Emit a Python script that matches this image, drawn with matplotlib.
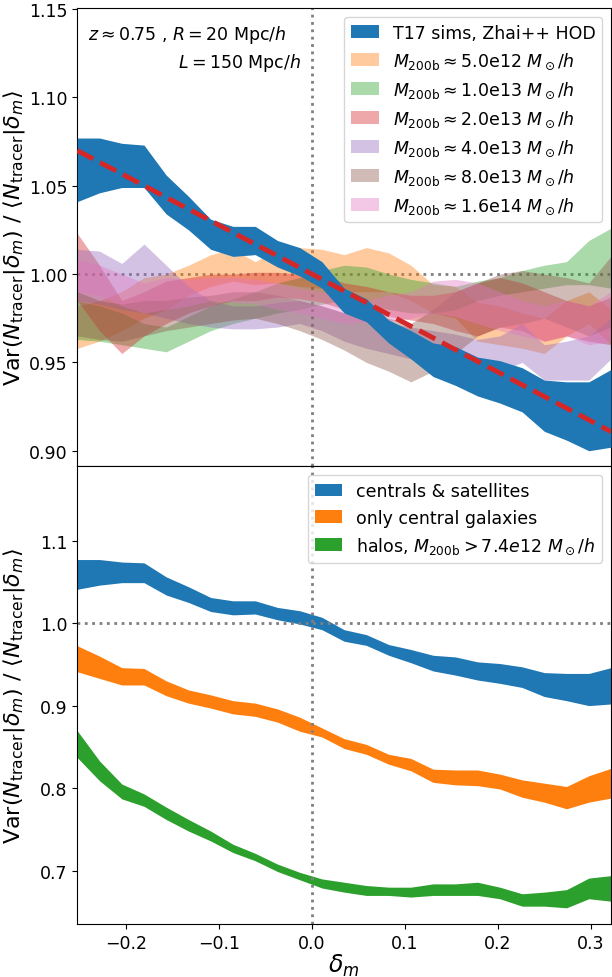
import matplotlib
matplotlib.use("Agg")
import matplotlib.pyplot as plt

# ---------------- data ----------------
delta_m = [-0.2525, -0.2286, -0.2046, -0.1807, -0.1568, -0.1328, -0.1089, -0.0850,
           -0.0610, -0.0371, -0.0132, 0.0108, 0.0347, 0.0586, 0.0826, 0.1065,
           0.1304, 0.1544, 0.1783, 0.2022, 0.2262, 0.2501, 0.2740, 0.2980, 0.3219]

# T17 sims / centrals & satellites
cs_lo = [1.041, 1.046, 1.049, 1.049, 1.034, 1.025, 1.014, 1.010, 1.011, 1.004, 0.999, 0.992,
         0.978, 0.973, 0.961, 0.952, 0.942, 0.937, 0.931, 0.927, 0.922, 0.911, 0.906, 0.900, 0.902]
cs_hi = [1.077, 1.077, 1.074, 1.073, 1.056, 1.044, 1.031, 1.027, 1.027, 1.019, 1.015, 1.007,
         0.992, 0.986, 0.974, 0.968, 0.961, 0.959, 0.953, 0.951, 0.947, 0.940, 0.939, 0.939, 0.946]

# linear model (red dashed)
model = [1.0699, 1.0633, 1.0567, 1.0501, 1.0434, 1.0368, 1.0302, 1.0235, 1.0169, 1.0103,
         1.0037, 0.9970, 0.9904, 0.9838, 0.9771, 0.9705, 0.9639, 0.9572, 0.9506, 0.9440,
         0.9373, 0.9307, 0.9241, 0.9175, 0.9108]

mass_labels = ["5.0e12", "1.0e13", "2.0e13", "4.0e13", "8.0e13", "1.6e14"]
m1_lo = [0.958, 0.962, 0.968, 0.975, 0.980, 0.988, 0.993, 0.996, 0.994, 0.995, 0.993, 0.992,
         0.990, 0.990, 0.990, 0.985, 0.978, 0.975, 0.962, 0.960, 0.958, 0.955, 0.965, 0.972, 0.960]
m1_hi = [0.982, 0.985, 0.990, 0.998, 1.000, 1.005, 1.011, 1.014, 1.007, 1.014, 1.015, 1.014,
         1.011, 1.015, 1.012, 1.005, 0.994, 0.993, 0.984, 0.982, 0.978, 0.975, 0.985, 0.990, 0.980]
m2_lo = [0.963, 0.962, 0.960, 0.958, 0.956, 0.962, 0.968, 0.972, 0.975, 0.978, 0.980, 0.983,
         0.985, 0.983, 0.980, 0.978, 0.978, 0.980, 0.985, 0.988, 0.990, 0.992, 0.994, 0.994, 0.992]
m2_hi = [0.985, 0.982, 0.978, 0.972, 0.970, 0.976, 0.982, 0.986, 0.990, 0.995, 0.998, 1.002,
         1.005, 1.004, 1.000, 0.997, 0.995, 0.993, 0.996, 0.998, 1.002, 1.005, 1.007, 1.019, 1.026]
m3_lo = [0.985, 0.968, 0.955, 0.965, 0.972, 0.978, 0.982, 0.985, 0.985, 0.987, 0.986, 0.984,
         0.980, 0.978, 0.976, 0.974, 0.972, 0.968, 0.965, 0.970, 0.968, 0.962, 0.965, 0.962, 0.960]
m3_hi = [1.023, 1.005, 0.985, 0.990, 0.996, 0.998, 1.000, 1.000, 1.001, 1.001, 1.000, 0.999,
         0.995, 0.993, 0.990, 0.988, 0.988, 0.990, 0.995, 0.998, 0.995, 0.990, 0.985, 0.982, 0.987]
m4_lo = [0.985, 0.983, 0.980, 0.978, 0.975, 0.972, 0.970, 0.969, 0.969, 0.970, 0.972, 0.968,
         0.962, 0.958, 0.955, 0.952, 0.950, 0.948, 0.945, 0.945, 0.950, 0.940, 0.940, 0.940, 0.952]
m4_hi = [1.014, 1.013, 1.006, 1.017, 1.005, 0.993, 0.985, 0.982, 0.982, 0.984, 0.985, 0.982,
         0.978, 0.975, 0.972, 0.970, 0.968, 0.966, 0.963, 0.965, 0.972, 0.960, 0.962, 0.965, 0.975]
m5_lo = [0.965, 0.963, 0.962, 0.965, 0.968, 0.970, 0.972, 0.974, 0.975, 0.972, 0.968, 0.963,
         0.957, 0.950, 0.945, 0.939, 0.945, 0.955, 0.965, 0.970, 0.972, 0.975, 0.970, 0.965, 0.970]
m5_hi = [0.990, 0.985, 0.983, 0.985, 0.985, 0.987, 0.988, 0.990, 0.990, 0.988, 0.985, 0.982,
         0.978, 0.976, 0.975, 0.972, 0.980, 0.990, 0.995, 1.000, 1.002, 1.000, 0.998, 0.995, 1.010]
m6_lo = [0.990, 0.988, 0.982, 0.978, 0.980, 0.982, 0.985, 0.984, 0.983, 0.980, 0.978, 0.975,
         0.972, 0.973, 0.973, 0.975, 0.978, 0.976, 0.972, 0.968, 0.965, 0.962, 0.965, 0.960, 0.962]
m6_hi = [1.008, 1.005, 1.000, 0.995, 0.998, 0.997, 0.998, 0.998, 0.997, 0.995, 0.992, 0.990,
         0.986, 0.985, 0.988, 0.990, 0.996, 0.997, 0.995, 0.990, 0.985, 0.982, 0.985, 0.982, 0.990]

# only central galaxies
cen_lo = [0.941, 0.933, 0.925, 0.925, 0.912, 0.903, 0.897, 0.890, 0.887, 0.880, 0.869, 0.862,
          0.848, 0.841, 0.829, 0.821, 0.807, 0.804, 0.803, 0.799, 0.789, 0.783, 0.775, 0.783, 0.788]
cen_hi = [0.9725, 0.960, 0.946, 0.945, 0.930, 0.919, 0.913, 0.906, 0.903, 0.896, 0.886, 0.873,
          0.860, 0.853, 0.841, 0.836, 0.823, 0.822, 0.822, 0.817, 0.810, 0.806, 0.802, 0.815, 0.824]
# halos
halo_lo = [0.837, 0.809, 0.787, 0.778, 0.762, 0.748, 0.736, 0.722, 0.712, 0.699, 0.689, 0.679,
           0.674, 0.670, 0.670, 0.668, 0.670, 0.670, 0.670, 0.666, 0.657, 0.657, 0.655, 0.666, 0.663]
halo_hi = [0.8695, 0.833, 0.805, 0.793, 0.777, 0.762, 0.748, 0.732, 0.721, 0.708, 0.698, 0.690,
           0.686, 0.682, 0.680, 0.680, 0.684, 0.684, 0.686, 0.680, 0.672, 0.674, 0.677, 0.691, 0.694]

# ---------------- plot ----------------
fs_tick = 12.5
fs_leg = 12.5
fs_lab = 16
ylab = r'Var$(N_{\rm tracer}|\delta_m)$ / $\langle N_{\rm tracer}|\delta_m\rangle$'

fig = plt.figure(figsize=(6.12, 9.78), dpi=100)
ax1 = fig.add_axes([0.1263, 0.5222, 0.8721, 0.4686])
ax2 = fig.add_axes([0.1263, 0.0537, 0.8721, 0.4685], sharex=ax1)

ax1.fill_between(delta_m, cs_lo, cs_hi, color='C0', lw=0, zorder=3,
                 label='T17 sims, Zhai++ HOD')
mass_lo = [m1_lo, m2_lo, m3_lo, m4_lo, m5_lo, m6_lo]
mass_hi = [m1_hi, m2_hi, m3_hi, m4_hi, m5_hi, m6_hi]
for k, (lab, lo, hi) in enumerate(zip(mass_labels, mass_lo, mass_hi)):
    ax1.fill_between(delta_m, lo, hi, color='C%d' % (k + 1), alpha=0.4, lw=0, zorder=2,
                     label=r'$M_{\rm 200b}\approx$' + lab + r' $M_\odot/h$')
ax1.plot(delta_m, model, color='C3', lw=3.5, ls='--', zorder=4)
ax1.axhline(1.0, color='gray', ls=':', lw=2, zorder=1)
ax1.axvline(0.0, color='gray', ls=':', lw=2, zorder=1)
ax1.set_xlim(-0.2525, 0.3219)
ax1.set_ylim(0.8912, 1.1506)
ax1.set_yticks([0.90, 0.95, 1.00, 1.05, 1.10, 1.15])
ax1.tick_params(axis='x', bottom=False, labelbottom=False)
ax1.tick_params(axis='y', labelsize=fs_tick)
ax1.set_ylabel(ylab, fontsize=fs_lab)
ax1.yaxis.set_label_coords(-0.0948, 0.5)
leg1 = ax1.legend(loc='upper right', fontsize=fs_leg, handlelength=1.6)
leg1.set_zorder(10)
ax1.text(0.020, 0.943, r'$z\approx0.75$ , $R=20$ Mpc/$h$', transform=ax1.transAxes,
         fontsize=fs_leg, ha='left', va='center')
ax1.text(0.189, 0.882, r'$L=150$ Mpc/$h$', transform=ax1.transAxes,
         fontsize=fs_leg, ha='left', va='center')

ax2.fill_between(delta_m, cs_lo, cs_hi, color='C0', lw=0, label='centrals & satellites')
ax2.fill_between(delta_m, cen_lo, cen_hi, color='C1', lw=0, label='only central galaxies')
ax2.fill_between(delta_m, halo_lo, halo_hi, color='C2', lw=0,
                 label=r'halos, $M_{\rm 200b}>7.4e12\ M_\odot/h$')
ax2.axhline(1.0, color='gray', ls=':', lw=2)
ax2.axvline(0.0, color='gray', ls=':', lw=2)
ax2.set_ylim(0.6348, 1.19)
ax2.set_yticks([0.7, 0.8, 0.9, 1.0, 1.1])
ax2.set_xticks([-0.2, -0.1, 0.0, 0.1, 0.2, 0.3])
ax2.tick_params(labelsize=fs_tick)
ax2.set_xlabel(r'$\delta_m$', fontsize=17, labelpad=0)
ax2.set_ylabel(ylab, fontsize=fs_lab)
ax2.yaxis.set_label_coords(-0.0948, 0.5)
ax2.legend(loc='upper right', fontsize=fs_leg, handlelength=1.6)

fig.savefig('out.png', dpi=100)
